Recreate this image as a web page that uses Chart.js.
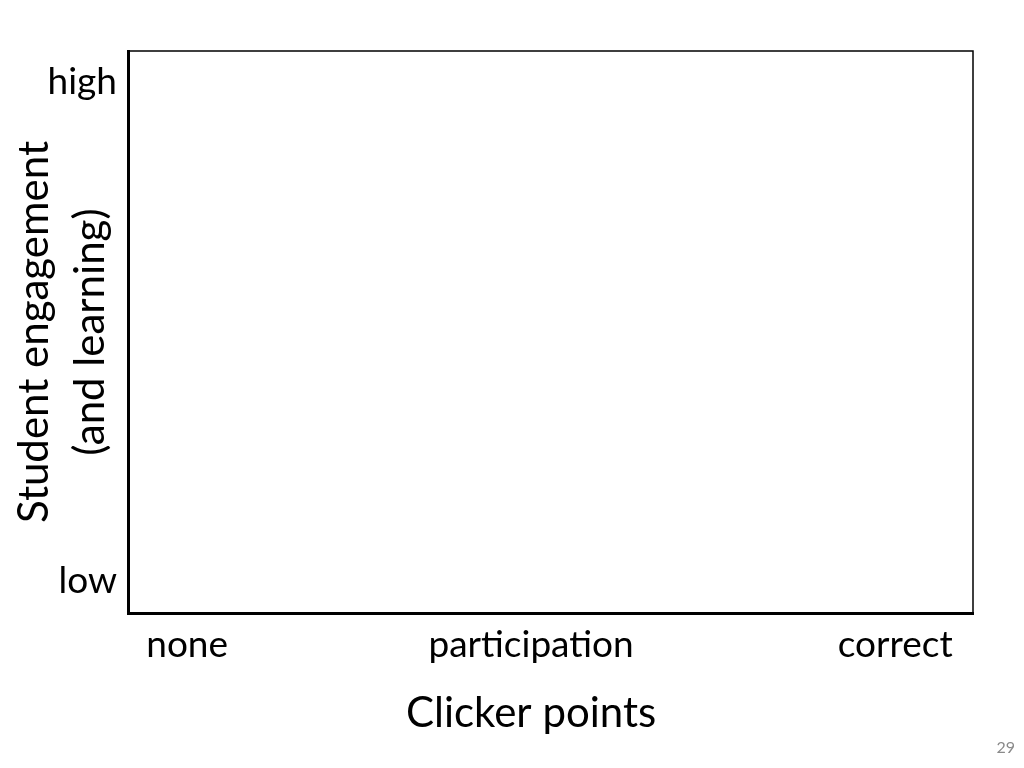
<!DOCTYPE html>
<html>
<head>
<meta charset="utf-8">
<script src="https://cdn.jsdelivr.net/npm/chart.js@4"></script>
<style>
  html, body { margin: 0; padding: 0; background: #fff; }
  #wrap { position: relative; width: 1024px; height: 768px; }
  #page { position: absolute; right: 9px; bottom: 12px; font: 16px Lato, sans-serif; color: #8a8a8a; }
</style>
</head>
<body>
<div id="wrap">
  <canvas id="chartFrame" width="1024" height="768"></canvas>
  <div id="page">29</div>
</div>
<script>
let xLabels = ['none', 'participation', 'correct'];
let xTickValues = [0.07, 0.477, 0.908];
let yLabels = ['low', 'high'];
let yTickValues = [0.057, 0.945];
let xTitle = 'Clicker points';
let yTitle = ['Student engagement', '(and learning)'];
let points = [];

// thin top and right sides of the box, plus the x title under the middle tick
let framePlugin = {
    id: 'frame',
    afterDraw(chart) {
        let ctx = chart.ctx;
        let a = chart.chartArea;
        ctx.save();
        ctx.strokeStyle = '#000';
        ctx.lineWidth = 1.5;
        ctx.beginPath();
        ctx.moveTo(a.left, a.top);
        ctx.lineTo(a.right, a.top);
        ctx.lineTo(a.right, a.bottom);
        ctx.stroke();

        let x = chart.scales.x;
        ctx.fillStyle = '#000';
        ctx.font = '42px Lato';
        ctx.textAlign = 'center';
        ctx.textBaseline = 'alphabetic';
        ctx.fillText(xTitle, x.getPixelForValue(xTickValues[1]), 727);
        ctx.restore();
    }
};

Chart.defaults.color = '#000';
Chart.defaults.font.family = 'Lato';

let chart = new Chart(document.getElementById('chartFrame'), {
    type: 'scatter',
    data: {
        datasets: [{ data: points }]
    },
    options: {
        responsive: false,
        animation: false,
        layout: { padding: { top: 51, right: 51, left: 0, bottom: 0 } },
        plugins: {
            legend: { display: false },
            tooltip: { enabled: false }
        },
        scales: {
            x: {
                type: 'linear',
                min: 0,
                max: 1,
                grid: { display: false },
                border: { display: true, width: 3, color: '#000' },
                afterBuildTicks(scale) {
                    scale.ticks = xTickValues.map(v => ({ value: v }));
                },
                afterFit(scale) { scale.height = 155; },
                ticks: {
                    autoSkip: false,
                    maxRotation: 0,
                    padding: 2,
                    font: { size: 37 },
                    callback: (v, i) => xLabels[i]
                }
            },
            y: {
                type: 'linear',
                min: 0,
                max: 1,
                grid: { display: false },
                border: { display: true, width: 3, color: '#000' },
                afterBuildTicks(scale) {
                    scale.ticks = yTickValues.map(v => ({ value: v }));
                },
                afterFit(scale) { scale.width = 128; },
                ticks: {
                    autoSkip: false,
                    padding: 3,
                    font: { size: 37 },
                    callback: (v, i) => yLabels[i]
                },
                title: {
                    display: true,
                    text: yTitle,
                    font: { size: 42, lineHeight: 1.33 },
                    padding: { top: 7, bottom: 0 }
                }
            }
        }
    },
    plugins: [framePlugin]
});
</script>
</body>
</html>
